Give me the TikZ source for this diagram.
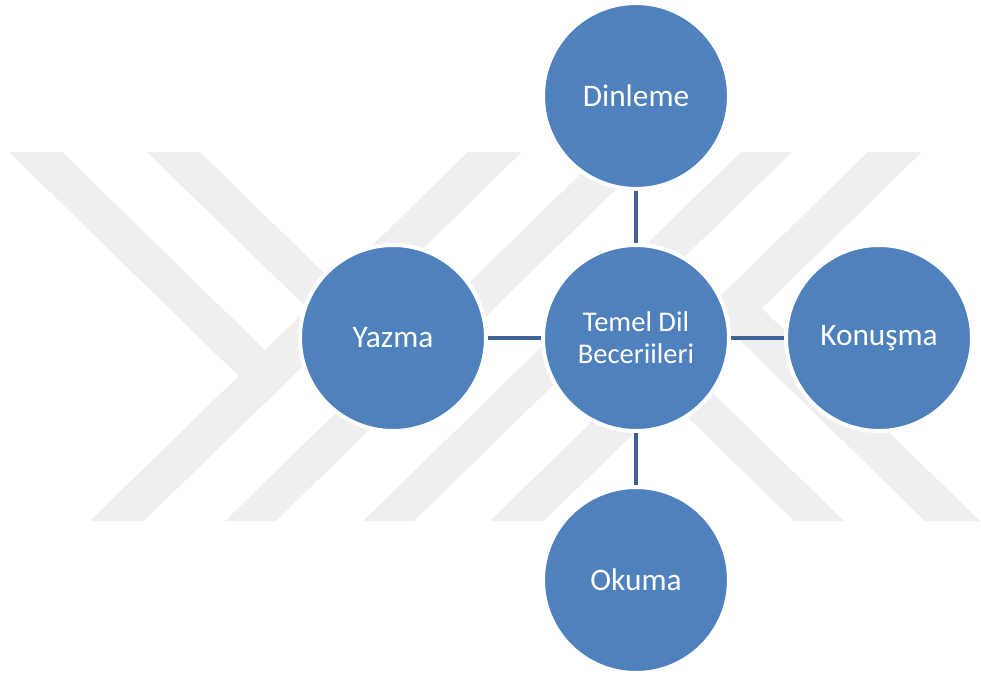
\documentclass[tikz,border=0pt]{standalone}
\usepackage{fontspec}
\setmainfont{Carlito}
\definecolor{bubblefill}{RGB}{79,129,189}
\definecolor{linkblue}{RGB}{62,99,148}
\definecolor{wmgray}{RGB}{239,239,239}
\begin{document}
\begin{tikzpicture}[x=0.75pt,y=-0.75pt,
  wm/.style={fill=wmgray,draw=none},
  bubble/.style={circle,fill=bubblefill,draw=white,line width=3pt,
    minimum size=139.5pt,inner sep=0pt,text=white,align=center,
    font=\fontsize{23.5}{28}\selectfont},
  hubtext/.style={font=\fontsize{21.4}{24}\selectfont},
  link/.style={draw=linkblue,line width=3.7pt}]
\useasboundingbox (0,0) rectangle (981,675);
\fill[white] (0,0) rectangle (981,675);
% watermark
\fill[wm] (90,521) -- (144,521) -- (522,152) -- (468,152) -- cycle;
\fill[wm] (225,521) -- (276,521) -- (654,152) -- (603,152) -- cycle;
\fill[wm] (363,521) -- (414,521) -- (792,152) -- (741,152) -- cycle;
\fill[wm] (490,521) -- (544,521) -- (922,152) -- (868,152) -- cycle;
\fill[wm] (9,152) -- (62,152) -- (292,376.5) -- (265.6,402.4) -- cycle;
\fill[wm] (147,152) -- (200,152) -- (427,373.6) -- (400.6,399.4) -- cycle;
\fill[wm] (794,521) -- (844,521) -- (603.5,286.4) -- (578.5,310.8) -- cycle;
\fill[wm] (925,521) -- (980,521) -- (735,282) -- (707.5,308.8) -- cycle;
% nodes
\node[bubble,hubtext] (hub) at (636,338) {Temel Dil\\Beceriileri};
\node[bubble] (top) at (636,96) {Dinleme};
\node[bubble] (bottom) at (636,580) {Okuma};
\node[bubble] (left) at (393,338) {Yazma};
\node[bubble] (right) at (879,338) {Konuşma};
% connectors
\draw[link] (hub) -- (top);
\draw[link] (hub) -- (bottom);
\draw[link] (hub) -- (left);
\draw[link] (hub) -- (right);
\end{tikzpicture}
\end{document}
